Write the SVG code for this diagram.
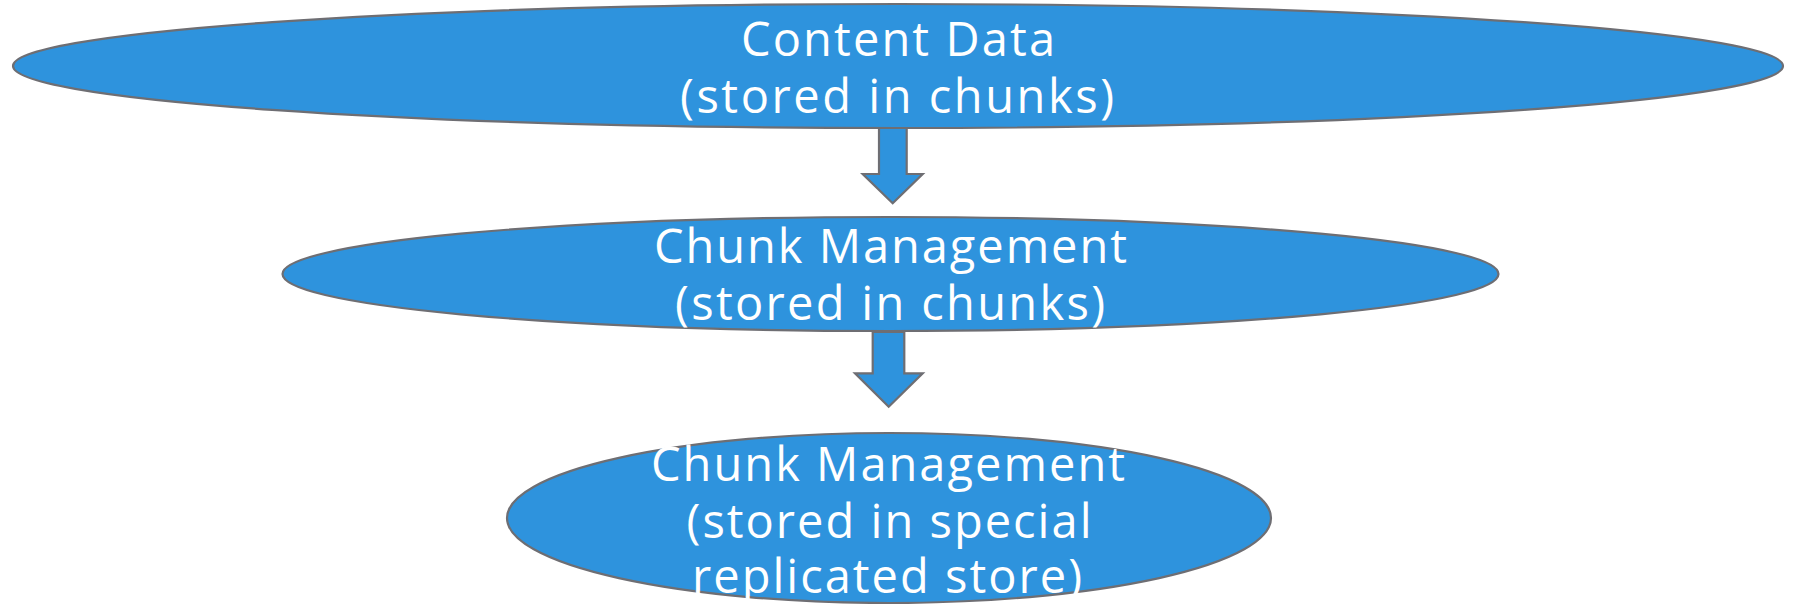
<svg xmlns="http://www.w3.org/2000/svg" width="1795" height="604" viewBox="0 0 1795 604">
  <style>
    .node { fill: #2e93dd; stroke: #6e6e73; stroke-width: 2.2; }
    .arrow { fill: #2e93dd; stroke: #6e6e73; stroke-width: 2.2; stroke-linejoin: miter; }
    .label { fill: #ffffff; font-family: "Open Sans", "Noto Sans", "Liberation Sans", sans-serif; font-size: 47px; text-anchor: middle; }
  </style>
  <rect width="1795" height="604" fill="#ffffff"/>

  <!-- block arrows between the layers -->
  <g id="connectors">
    <polygon class="arrow" points="879,128 906.7,128 906.7,174 922.7,174 892.7,203.3 862.7,174 879,174"/>
    <polygon class="arrow" points="872.7,332 904.3,332 904.3,373.3 922.7,373.3 888.7,406.7 855,373.3 872.7,373.3"/>
  </g>

  <g id="content-data">
    <ellipse class="node" cx="898" cy="66" rx="885" ry="62"/>
    <text class="label" x="898" y="56" textLength="314" lengthAdjust="spacing">Content Data</text>
    <text class="label" x="897" y="113" textLength="434" lengthAdjust="spacing">(stored in chunks)</text>
  </g>

  <g id="chunk-management">
    <ellipse class="node" cx="890.5" cy="274" rx="608" ry="57"/>
    <text class="label" x="890.5" y="263" textLength="473" lengthAdjust="spacing">Chunk Management</text>
    <text class="label" x="890" y="320" textLength="430" lengthAdjust="spacing">(stored in chunks)</text>
  </g>

  <g id="chunk-management-replicated">
    <ellipse class="node" cx="889" cy="518" rx="382" ry="85"/>
    <text class="label" x="888" y="481" textLength="474" lengthAdjust="spacing">Chunk Management</text>
    <text class="label" x="889" y="538" textLength="405" lengthAdjust="spacing">(stored in special</text>
    <text class="label" x="887" y="593" textLength="390" lengthAdjust="spacing">replicated store)</text>
  </g>
</svg>
